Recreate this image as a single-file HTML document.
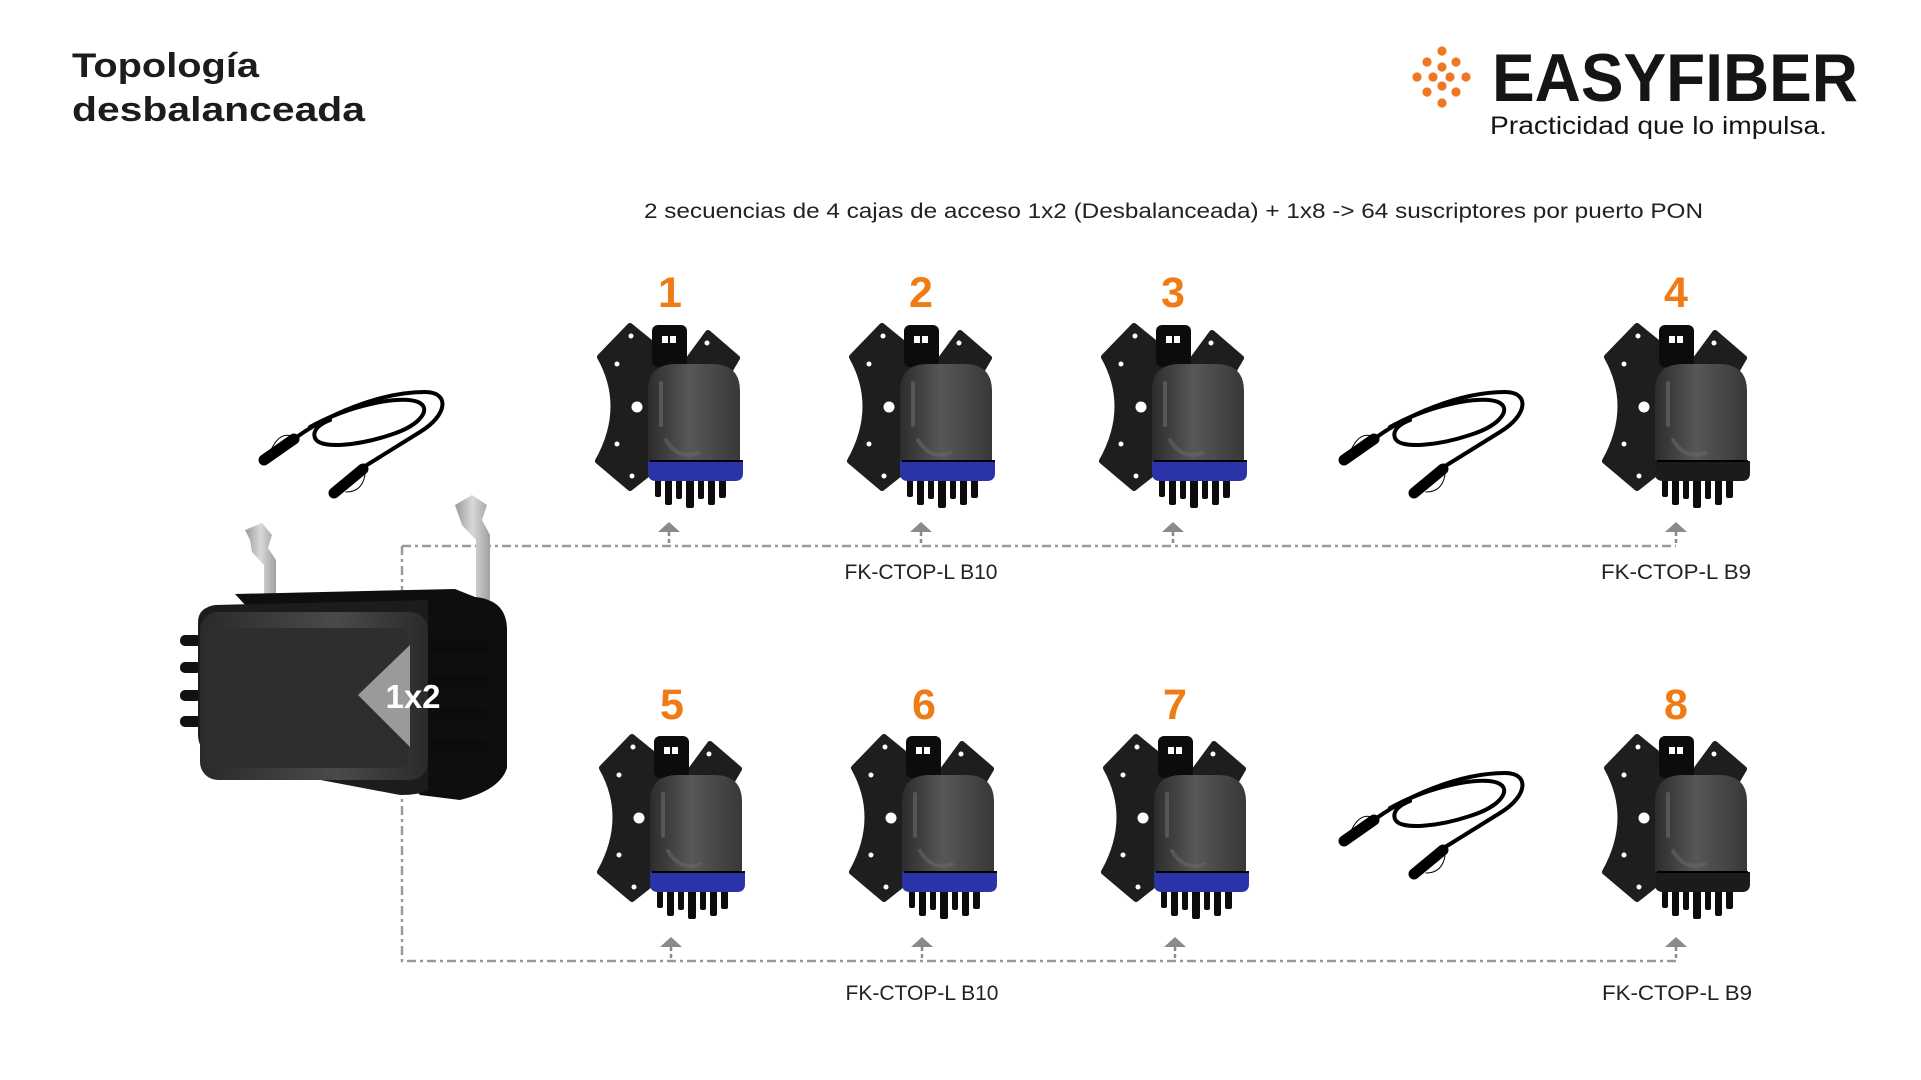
<!DOCTYPE html>
<html><head><meta charset="utf-8"><style>
html,body{margin:0;padding:0;background:#fff;width:1921px;height:1080px;overflow:hidden}
svg{display:block}
text{font-family:"Liberation Sans",sans-serif}
</style></head><body>
<svg width="1921" height="1080" viewBox="0 0 1921 1080" xmlns="http://www.w3.org/2000/svg">
<defs>
<linearGradient id="cyl" x1="0" x2="1" y1="0" y2="0">
<stop offset="0" stop-color="#2c2c2c"/><stop offset="0.45" stop-color="#575757"/><stop offset="1" stop-color="#383838"/>
</linearGradient>
<linearGradient id="box" x1="0" x2="1" y1="0" y2="0">
<stop offset="0" stop-color="#2a2a2a"/><stop offset="0.6" stop-color="#4a4a4a"/><stop offset="1" stop-color="#2a2a2a"/>
</linearGradient>
<linearGradient id="clamp" x1="0" x2="1"><stop offset="0" stop-color="#9a9a9a"/><stop offset="0.5" stop-color="#d8d8d8"/><stop offset="1" stop-color="#a0a0a0"/></linearGradient>
<g id="dev">
<path d="M32,1 L2,32 Q30,82 0,136 L32,163 L80,125 L80,40 Z" fill="#1e1e1e" stroke="#1e1e1e" stroke-width="6" stroke-linejoin="round"/>
<path d="M110,8 L139,33 L122,62 L85,42 Z" fill="#1e1e1e" stroke="#1e1e1e" stroke-width="6" stroke-linejoin="round"/>
<circle cx="33" cy="11" r="2.5" fill="#fff"/><circle cx="19" cy="39" r="2.5" fill="#fff"/>
<circle cx="19" cy="119" r="2.5" fill="#fff"/><circle cx="34" cy="151" r="2.5" fill="#fff"/>
<circle cx="109" cy="18" r="2.5" fill="#fff"/><circle cx="39" cy="82" r="5.5" fill="#fff"/>
<rect x="54" y="0" width="35" height="42" rx="6" fill="#0c0c0c"/>
<rect x="64" y="11" width="6" height="7" fill="#fff"/><rect x="72" y="11" width="6" height="7" fill="#fff"/>
<g fill="#0c0c0c">
<rect x="57" y="150" width="6" height="22" rx="2"/><rect x="67" y="150" width="7" height="30" rx="2"/>
<rect x="78" y="150" width="6" height="24" rx="2"/><rect x="88" y="150" width="8" height="33" rx="2"/>
<rect x="100" y="150" width="6" height="24" rx="2"/><rect x="110" y="150" width="7" height="30" rx="2"/>
<rect x="121" y="150" width="7" height="23" rx="2"/>
</g>
<path d="M50,143 L50,66 Q50,39 78,39 L114,39 Q142,39 142,66 L142,143 Z" fill="url(#cyl)"/>
<path d="M63,58 L63,100" stroke="#6a6a6a" stroke-width="4" stroke-linecap="round" opacity="0.6"/>
<path d="M68,115 Q80,135 100,128" stroke="#666" stroke-width="4" fill="none" stroke-linecap="round" opacity="0.6"/>
</g>
<g id="cable" fill="none" stroke="#000" stroke-linecap="round">
<path d="M40,62 C75,35 130,12 175,12 C200,12 198,35 170,52 L112,88" stroke-width="4"/>
<path d="M60,47 C100,25 150,15 168,22 C182,28 172,45 140,55 C110,65 70,70 65,58 C62,50 70,44 80,40" stroke-width="4"/>
<path d="M14,80 L44,59" stroke-width="11"/>
<path d="M84,113 L113,89" stroke-width="11"/>
<path d="M22,68 Q30,52 42,56" stroke-width="1"/><path d="M96,112 Q112,112 115,95" stroke-width="1"/>
</g>
<g id="arr"><path d="M-11,10 L0,0 L11,10 Z" fill="#8a8a8a"/><line x1="0" y1="10" x2="0" y2="24" stroke="#8a8a8a" stroke-width="2.5" stroke-dasharray="4 3"/></g>
</defs>

<text x="72" y="77" font-size="34" font-weight="bold" fill="#1c1c1c" textLength="187" lengthAdjust="spacingAndGlyphs">Topología</text>
<text x="72" y="121" font-size="34" font-weight="bold" fill="#1c1c1c" textLength="293" lengthAdjust="spacingAndGlyphs">desbalanceada</text>

<g fill="#ef7622">
<circle cx="1442" cy="51" r="4.6"/><circle cx="1427" cy="62" r="4.6"/><circle cx="1442" cy="67" r="4.6"/><circle cx="1456" cy="62" r="4.6"/>
<circle cx="1417" cy="77" r="4.6"/><circle cx="1433" cy="77" r="4.6"/><circle cx="1450" cy="77" r="4.6"/><circle cx="1466" cy="77" r="4.6"/>
<circle cx="1427" cy="92" r="4.6"/><circle cx="1442" cy="86" r="4.6"/><circle cx="1456" cy="92" r="4.6"/><circle cx="1442" cy="103" r="4.6"/>
</g>
<text x="1492" y="101" font-size="68" font-weight="bold" fill="#151515" textLength="366" lengthAdjust="spacingAndGlyphs">EASYFIBER</text>
<text x="1490" y="134" font-size="25" fill="#151515" textLength="337" lengthAdjust="spacingAndGlyphs">Practicidad que lo impulsa.</text>

<text x="644" y="218" font-size="21" fill="#222" textLength="1059" lengthAdjust="spacingAndGlyphs">2 secuencias de 4 cajas de acceso 1x2 (Desbalanceada) + 1x8 -&gt; 64 suscriptores por puerto PON</text>

<!-- dashed lines -->
<g stroke="#999" stroke-width="2.5" fill="none" stroke-dasharray="9 4 3 4">
<path d="M402,546 L1676,546"/>
<path d="M402,546 L402,961 L1676,961"/>
</g>

<!-- cables -->
<use href="#cable" x="250" y="380"/>
<use href="#cable" x="1330" y="380"/>
<use href="#cable" x="1330" y="761"/>

<!-- splitter -->
<g>
<path d="M245,530 L262,523 L272,535 L268,548 L276,560 L276,600 L264,600 L264,565 L252,552 L250,540 Z" fill="url(#clamp)"/>
<path d="M455,505 L472,495 L487,505 L482,520 L490,535 L490,600 L476,600 L476,540 L462,525 Z" fill="url(#clamp)"/>
<rect x="180" y="635" width="22" height="11" rx="5" fill="#111"/>
<rect x="180" y="662" width="22" height="11" rx="5" fill="#111"/>
<rect x="180" y="690" width="22" height="11" rx="5" fill="#111"/>
<rect x="180" y="716" width="22" height="11" rx="5" fill="#111"/>
<path d="M235,594 L455,589 L475,597 Q507,600 507,630 L507,768 Q500,790 460,800 L420,795 Z" fill="#0e0e0e"/>
<path d="M215,605 L428,600 L428,790 Q420,795 400,795 L215,760 Q198,750 198,735 L198,622 Q198,608 215,605 Z" fill="#1c1c1c"/>
<rect x="200" y="612" width="228" height="168" rx="18" fill="url(#box)"/>
<rect x="206" y="628" width="202" height="140" rx="8" fill="#2e2e2e"/>
<path d="M358,695 L410,645 L410,747 Z" fill="#9a9a9a"/>
<g fill="#0c0c0c">
<rect x="428" y="642" width="62" height="11" rx="5"/><rect x="428" y="675" width="62" height="11" rx="5"/>
<rect x="428" y="708" width="62" height="11" rx="5"/><rect x="428" y="740" width="62" height="11" rx="5"/>
</g>
<text x="413" y="708" font-size="33" font-weight="bold" fill="#fff" text-anchor="middle">1x2</text>
</g>

<!-- devices top -->
<use href="#dev" x="598" y="325"/><use href="#dev" x="850" y="325"/><use href="#dev" x="1102" y="325"/><use href="#dev" x="1605" y="325"/>
<g fill="#2b33a8">
<path d="M648,461 h95 v12 q0,8 -8,8 h-79 q-8,0 -8,-8 Z"/>
<path d="M900,461 h95 v12 q0,8 -8,8 h-79 q-8,0 -8,-8 Z"/>
<path d="M1152,461 h95 v12 q0,8 -8,8 h-79 q-8,0 -8,-8 Z"/>
</g>
<path d="M1655,461 h95 v12 q0,8 -8,8 h-79 q-8,0 -8,-8 Z" fill="#1b1b1b"/>
<!-- devices bottom -->
<use href="#dev" x="600" y="736"/><use href="#dev" x="852" y="736"/><use href="#dev" x="1104" y="736"/><use href="#dev" x="1605" y="736"/>
<g fill="#2b33a8">
<path d="M650,872 h95 v12 q0,8 -8,8 h-79 q-8,0 -8,-8 Z"/>
<path d="M902,872 h95 v12 q0,8 -8,8 h-79 q-8,0 -8,-8 Z"/>
<path d="M1154,872 h95 v12 q0,8 -8,8 h-79 q-8,0 -8,-8 Z"/>
</g>
<path d="M1655,872 h95 v12 q0,8 -8,8 h-79 q-8,0 -8,-8 Z" fill="#1b1b1b"/>
<g stroke="#000" stroke-width="2" fill="none">
<line x1="650" y1="461" x2="743" y2="461"/><line x1="902" y1="461" x2="995" y2="461"/><line x1="1154" y1="461" x2="1247" y2="461"/><line x1="1657" y1="461" x2="1748" y2="461"/>
<line x1="652" y1="872" x2="745" y2="872"/><line x1="904" y1="872" x2="997" y2="872"/><line x1="1156" y1="872" x2="1249" y2="872"/><line x1="1657" y1="872" x2="1748" y2="872"/>
</g>

<!-- numbers -->
<g font-size="43" font-weight="bold" fill="#f07a14" text-anchor="middle">
<text x="670" y="307">1</text><text x="921" y="307">2</text><text x="1173" y="307">3</text><text x="1676" y="307">4</text>
<text x="672" y="719">5</text><text x="924" y="719">6</text><text x="1175" y="719">7</text><text x="1676" y="719">8</text>
</g>

<!-- arrows -->
<use href="#arr" x="669" y="522"/><use href="#arr" x="921" y="522"/><use href="#arr" x="1173" y="522"/><use href="#arr" x="1676" y="522"/>
<use href="#arr" x="671" y="937"/><use href="#arr" x="922" y="937"/><use href="#arr" x="1175" y="937"/><use href="#arr" x="1676" y="937"/>

<!-- labels -->
<g font-size="21" fill="#222" text-anchor="middle">
<text x="921" y="579" textLength="153" lengthAdjust="spacingAndGlyphs">FK-CTOP-L B10</text>
<text x="1676" y="579" textLength="150" lengthAdjust="spacingAndGlyphs">FK-CTOP-L B9</text>
<text x="922" y="1000" textLength="153" lengthAdjust="spacingAndGlyphs">FK-CTOP-L B10</text>
<text x="1677" y="1000" textLength="150" lengthAdjust="spacingAndGlyphs">FK-CTOP-L B9</text>
</g>
</svg>
</body></html>
